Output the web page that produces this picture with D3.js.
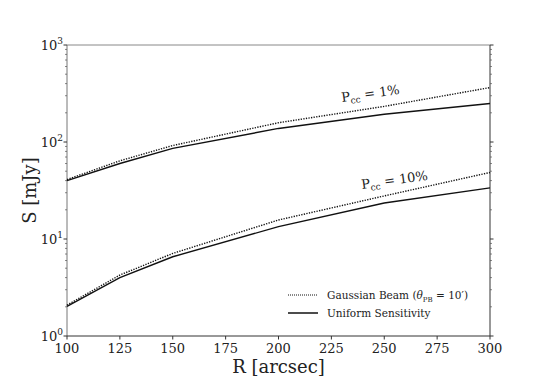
<!DOCTYPE html>
<html>
<head>
<meta charset="utf-8">
<script src="https://cdn.jsdelivr.net/npm/d3@7"></script>
<style>
  body { margin: 0; background: #fff; }
</style>
</head>
<body>
<div id="chart"></div>
<script>
// radius values (arcsec)
var radii = [100, 125, 150, 200, 250, 300];

// flux limits in mJy, P_cc = 1%
var gauss1 = [41, 64, 92, 158, 233, 364];
var unif1 = [40, 60, 86, 138, 193, 249];

// flux limits in mJy, P_cc = 10%
var gauss10 = [2.08, 4.25, 7.1, 15.7, 27.8, 48.5];
var unif10 = [2.02, 4.0, 6.56, 13.4, 23.5, 33.7];

var xTicks = [100, 125, 150, 175, 200, 225, 250, 275, 300];
var yExponents = [0, 1, 2, 3];

var width = 545, height = 382;
var margin = {top: 45, right: 55, bottom: 46, left: 67};
var serif = "DejaVu Serif, Liberation Serif, serif";

var svg = d3.select("#chart").append("svg")
    .attr("width", width)
    .attr("height", height)
    .style("font-family", serif);

var x = d3.scaleLinear().domain([100, 300]).range([margin.left, width - margin.right]);
var y = d3.scaleLog().domain([1, 1000]).range([height - margin.bottom, margin.top]);

var line = d3.line()
    .x(function(d, i) { return x(radii[i]); })
    .y(function(d) { return y(d); });

// minor ticks for log axis
var minor = [];
[1, 10, 100].forEach(function(dec) {
    for (var k = 2; k <= 9; k++) minor.push(dec * k);
});

var g = svg.append("g");

// spines
g.append("line").attr("x1", x(100)).attr("x2", x(300)).attr("y1", y(1000)).attr("y2", y(1000))
    .attr("stroke", "#888").attr("stroke-width", 1);
g.append("line").attr("x1", x(100)).attr("x2", x(100)).attr("y1", y(1)).attr("y2", y(1000))
    .attr("stroke", "#777").attr("stroke-width", 1);
g.append("line").attr("x1", x(300)).attr("x2", x(300)).attr("y1", y(1)).attr("y2", y(1000))
    .attr("stroke", "#333").attr("stroke-width", 1);
g.append("line").attr("x1", x(100)).attr("x2", x(300)).attr("y1", y(1)).attr("y2", y(1))
    .attr("stroke", "#333").attr("stroke-width", 1);

// x ticks
g.selectAll(".xtick").data(xTicks).enter().append("line")
    .attr("x1", function(d) { return x(d); })
    .attr("x2", function(d) { return x(d); })
    .attr("y1", y(1)).attr("y2", y(1) + 3.5)
    .attr("stroke", "#333");

g.selectAll(".xlab").data(xTicks).enter().append("text")
    .attr("x", function(d) { return x(d); })
    .attr("y", y(1) + 17)
    .attr("text-anchor", "middle")
    .attr("fill", "#222")
    .style("font-size", "13px")
    .text(function(d) { return d; });

// y ticks, left and right
[x(100), x(300)].forEach(function(px, side) {
    var dir = side === 0 ? -1 : 1;
    g.selectAll(null).data(yExponents).enter().append("line")
        .attr("x1", px).attr("x2", px + dir * 3.5)
        .attr("y1", function(d) { return y(Math.pow(10, d)); })
        .attr("y2", function(d) { return y(Math.pow(10, d)); })
        .attr("stroke", "#333");
    g.selectAll(null).data(minor).enter().append("line")
        .attr("x1", px).attr("x2", px + dir * 2)
        .attr("y1", function(d) { return y(d); })
        .attr("y2", function(d) { return y(d); })
        .attr("stroke", "#555").attr("stroke-width", 0.7);
});

var ylab = g.selectAll(".ylab").data(yExponents).enter().append("text")
    .attr("x", x(100) - 4)
    .attr("y", function(d) { return y(Math.pow(10, d)) + 5; })
    .attr("text-anchor", "end")
    .attr("fill", "#222")
    .style("font-size", "13px");
ylab.append("tspan").text("10");
ylab.append("tspan").attr("dy", -6).style("font-size", "9px").text(function(d) { return d; });

// lines
var series = [
    {values: gauss1, dash: "1.3,1.3"},
    {values: unif1, dash: null},
    {values: gauss10, dash: "1.3,1.3"},
    {values: unif10, dash: null}
];
g.selectAll(".series").data(series).enter().append("path")
    .attr("d", function(d) { return line(d.values); })
    .attr("fill", "none")
    .attr("stroke", "#111")
    .attr("stroke-width", 1.4)
    .attr("stroke-dasharray", function(d) { return d.dash; });

// P_cc annotations
function pcc(px, py, pct) {
    var t = g.append("text")
        .attr("transform", "translate(" + px + "," + py + ") rotate(-8)")
        .attr("fill", "#222")
        .style("font-size", "13px");
    t.append("tspan").text("P");
    t.append("tspan").attr("dy", 3).style("font-size", "9px").text("cc");
    t.append("tspan").attr("dy", -3).text(" = " + pct + "%");
}
pcc(342, 102, 1);
pcc(362, 189, 10);

// legend
var legend = [
    {label: "Gaussian Beam", dash: "1,1", lw: 1},
    {label: "Uniform Sensitivity", dash: null, lw: 1.5}
];
var lg = g.selectAll(".legend").data(legend).enter().append("g")
    .attr("transform", function(d, i) { return "translate(288," + (295 + i * 18) + ")"; });
lg.append("line").attr("x1", 0).attr("x2", 30).attr("y1", 0).attr("y2", 0)
    .attr("stroke", "#111")
    .attr("stroke-width", function(d) { return d.lw; })
    .attr("stroke-dasharray", function(d) { return d.dash; });
var lt = lg.append("text").attr("x", 39).attr("y", 4).attr("fill", "#222").style("font-size", "10.5px");
lt.append("tspan").text(function(d) { return d.label; });
var first = d3.select(lt.nodes()[0]);
first.append("tspan").text(" (");
first.append("tspan").style("font-style", "italic").text("θ");
first.append("tspan").attr("dy", 3).style("font-size", "7px").text("PB");
first.append("tspan").attr("dy", -3).text(" = 10′)");

// axis labels
svg.append("text")
    .attr("x", x(200))
    .attr("y", 373)
    .attr("text-anchor", "middle")
    .attr("fill", "#222")
    .style("font-size", "18px")
    .text("R [arcsec]");

svg.append("text")
    .attr("transform", "translate(36," + y(31.6) + ") rotate(-90)")
    .attr("text-anchor", "middle")
    .attr("fill", "#222")
    .style("font-size", "18px")
    .text("S [mJy]");
</script>
</body>
</html>
